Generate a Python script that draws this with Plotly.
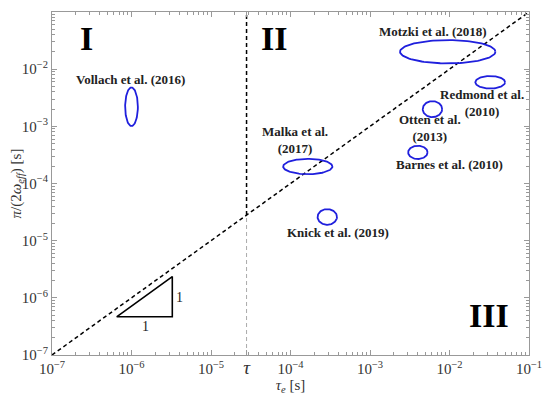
import numpy as np
import plotly.graph_objects as go

# ---- data ----
names = ["Vollach et al. (2016)", "Motzki et al. (2018)", "Redmond et al.<br>(2010)",
         "Otten et al.<br>(2013)", "Barnes et al. (2010)", "Malka et al.<br>(2017)",
         "Knick et al. (2019)"]
tau_center = [1.0e-6, 9.5e-3, 3.25e-2, 6.1e-3, 4.0e-3, 1.65e-4, 2.9e-4]
t2_center = [2.2e-3, 2.02e-2, 5.9e-3, 2.0e-3, 3.5e-4, 1.98e-4, 2.6e-5]
tau_halfspan_dec = [0.08, 0.60, 0.187, 0.122, 0.122, 0.31, 0.122]
t2_halfspan_dec = [0.338, 0.204, 0.11, 0.14, 0.116, 0.134, 0.137]
label_x = [9.6e-7, 6.25e-3, 2.55e-2, 5.75e-3, 9.95e-3, 1.14e-4, 3.93e-4]
label_y = [6.47e-3, 4.53e-2, 2.59e-3, 9.27e-4, 2.17e-4, 5.78e-4, 1.39e-5]

regions = ["I", "II", "III"]
region_x = [2.73e-7, 6.2e-5, 3.14e-2]
region_y = [3.47e-2, 3.47e-2, 4.99e-7]

tau_c = 2.8e-5
axis_min, axis_max = 1e-7, 1e-1
tri_x = [6.5e-7, 3.26e-6, 3.26e-6, 6.5e-7]
tri_y = [4.66e-7, 4.66e-7, 2.35e-6, 4.66e-7]
slope_label_x = [1.48e-6, 4.07e-6]
slope_label_y = [3.11e-7, 1.0e-6]

major_ticks = [1e-7, 1e-6, 1e-5, 1e-4, 1e-3, 1e-2, 1e-1]
major_text = ["10<sup>−7</sup>", "10<sup>−6</sup>", "10<sup>−5</sup>", "10<sup>−4</sup>",
              "10<sup>−3</sup>", "10<sup>−2</sup>", "10<sup>−1</sup>"]
minor_ticks = [k * 10.0 ** e for e in range(-7, -1) for k in range(2, 10)]

FONT = "Liberation Serif"
DASH = "4px,3px"

fig = go.Figure()

# diagonal y = x
fig.add_trace(go.Scatter(x=[axis_min, axis_max], y=[axis_min, axis_max], mode="lines",
                         line=dict(color="black", width=1.5, dash=DASH), hoverinfo="skip"))
# vertical at tau
fig.add_trace(go.Scatter(x=[tau_c, tau_c], y=[tau_c, axis_max], mode="lines",
                         line=dict(color="black", width=1.5, dash=DASH), hoverinfo="skip"))
fig.add_trace(go.Scatter(x=[tau_c, tau_c], y=[axis_min, tau_c], mode="lines",
                         line=dict(color="#aaaaaa", width=1, dash=DASH), hoverinfo="skip"))

# ellipses (in log space)
t = np.linspace(0, 2 * np.pi, 121)
for cx, cy, ax_, ay_ in zip(tau_center, t2_center, tau_halfspan_dec, t2_halfspan_dec):
    xs = 10 ** (np.log10(cx) + ax_ * np.cos(t))
    ys = 10 ** (np.log10(cy) + ay_ * np.sin(t))
    fig.add_trace(go.Scatter(x=xs, y=ys, mode="lines", line=dict(color="#1f1fdd", width=1.8),
                             hoverinfo="skip"))

# slope triangle
fig.add_trace(go.Scatter(x=tri_x, y=tri_y, mode="lines", line=dict(color="black", width=1.6),
                         hoverinfo="skip"))

# labels
for nm, lx, ly in zip(names, label_x, label_y):
    fig.add_annotation(x=np.log10(lx), y=np.log10(ly), text="<b>" + nm + "</b>", showarrow=False,
                       font=dict(family=FONT, size=13, color="#222222"))

for sx, sy in zip(slope_label_x, slope_label_y):
    fig.add_annotation(x=np.log10(sx), y=np.log10(sy), text="1", showarrow=False,
                       font=dict(family=FONT, size=14, color="#222222"))

# region numerals
for txt, rx, ry in zip(regions, region_x, region_y):
    fig.add_annotation(x=np.log10(rx), y=np.log10(ry), text="<b>" + txt + "</b>", showarrow=False,
                       font=dict(family=FONT, size=34, color="black"))

axis_common = dict(type="log", range=[-7, -1], showgrid=False, zeroline=False, automargin=False,
                   showline=True, linecolor="#999999", linewidth=1, mirror="allticks",
                   ticks="inside", ticklen=5, tickcolor="#999999",
                   minor=dict(ticks="inside", ticklen=3, tickcolor="#999999",
                              tickmode="array", tickvals=minor_ticks),
                   tickfont=dict(family=FONT, size=15, color="#333333"))

# page body has an 8px default margin; size the figure to fill the rest of the window
fig.update_layout(
    width=542, height=388, showlegend=False,
    margin=dict(l=44, r=21, t=4, b=41),
    plot_bgcolor="white", paper_bgcolor="white",
    xaxis=dict(**axis_common, tickmode="array",
               tickvals=major_ticks[:3] + [tau_c] + major_ticks[3:],
               ticktext=major_text[:3] + ["<i><span style='font-size:19px'>τ</span></i>"] + major_text[3:],
               title=dict(text="<i>τ</i><sub><i>e</i></sub> [s]", standoff=0,
                          font=dict(family=FONT, size=15, color="#333333"))),
    yaxis=dict(**axis_common, tickmode="array", tickvals=major_ticks, ticktext=major_text,
               title=dict(text="<i>π</i>/(2<i>ω</i><sub><i>eff</i></sub>) [s]", standoff=0,
                          font=dict(family=FONT, size=15, color="#333333"))),
)

fig.write_html("out.html")
